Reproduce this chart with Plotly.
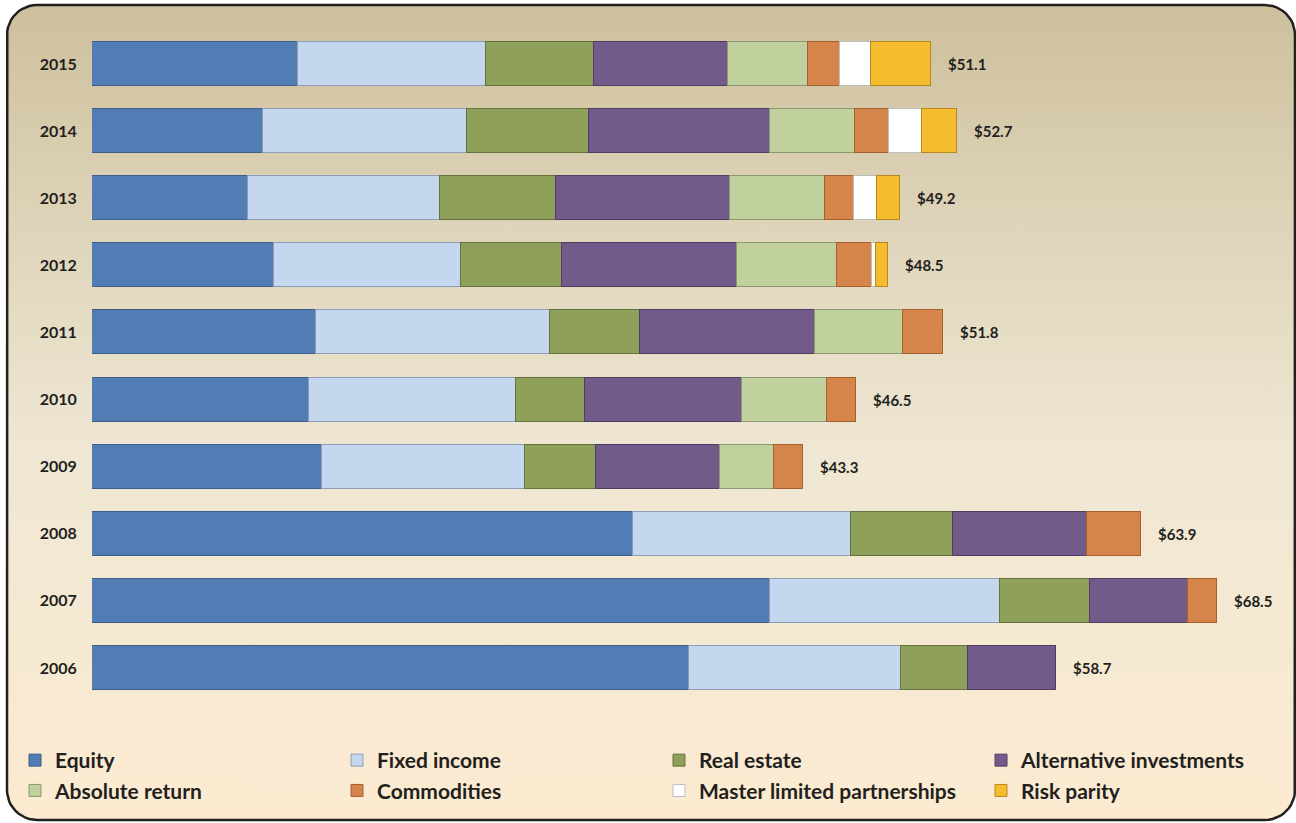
import math
import plotly.graph_objects as go

# Endowment asset allocation by year, $ billions
years = ["2006", "2007", "2008", "2009", "2010", "2011", "2012", "2013", "2014", "2015"]
equity = [36.36, 41.29, 32.95, 14.03, 13.21, 13.64, 11.08, 9.52, 10.42, 12.53]
fixed_income = [12.91, 14.01, 13.28, 12.36, 12.61, 14.25, 11.39, 11.66, 12.43, 11.48]
real_estate = [4.08, 5.48, 6.21, 4.32, 4.20, 5.48, 6.15, 7.06, 7.43, 6.58]
alternative = [5.35, 5.99, 8.17, 7.51, 9.54, 10.67, 10.66, 10.64, 11.00, 8.16]
absolute_return = [None, None, None, 3.29, 5.21, 5.34, 6.09, 5.74, 5.19, 4.83]
commodities = [None, 1.73, 3.29, 1.79, 1.73, 2.42, 2.13, 1.77, 2.07, 1.99]
mlp = [None, None, None, None, None, None, 0.24, 1.43, 2.03, 1.85]
risk_parity = [None, None, None, None, None, None, 0.76, 1.38, 2.13, 3.68]
totals = [58.7, 68.5, 63.9, 43.3, 46.5, 51.8, 48.5, 49.2, 52.7, 51.1]

series = [
    ("Equity", equity, "#517db4", "#3b5f8a"),
    ("Fixed income", fixed_income, "#c5d7ef", "#8c9db5"),
    ("Real estate", real_estate, "#8fa05a", "#65723e"),
    ("Alternative investments", alternative, "#725a8b", "#4f3d63"),
    ("Absolute return", absolute_return, "#c1d19d", "#8b9870"),
    ("Commodities", commodities, "#d5844a", "#a4612f"),
    ("Master limited partnerships", mlp, "#ffffff", "#bdbdbd"),
    ("Risk parity", risk_parity, "#f5bc2f", "#b5891d"),
]

FONT = "Lato, Open Sans, sans-serif"
TEXT = "#231f20"
W, H = 1296, 823

fig = go.Figure()

# Rounded panel with vertical tan-to-cream gradient (pixel coordinates)
x0, x1, y0, y1, r = 7, 1295, 5, 820, 30
px, py = [], []
corners = [(x1 - r, y0 + r, -90, 0), (x1 - r, y1 - r, 0, 90),
           (x0 + r, y1 - r, 90, 180), (x0 + r, y0 + r, 180, 270)]
for cx, cy, a0, a1 in corners:
    for k in range(13):
        a = math.radians(a0 + (a1 - a0) * k / 12)
        px.append(cx + r * math.cos(a))
        py.append(cy + r * math.sin(a))
px.append(px[0])
py.append(py[0])
fig.add_trace(go.Scatter(
    x=px, y=py, mode="lines", fill="toself",
    line=dict(color="#231f20", width=2.5),
    fillgradient=dict(type="vertical", start=0, stop=H,
                      colorscale=[[0, "#ccbf9c"], [0.3, "#e0d6bc"],
                                  [0.55, "#efe7d3"], [1, "#fcebd1"]]),
    hoverinfo="skip", showlegend=False, xaxis="x", yaxis="y",
))

for name, vals, color, edge in series:
    fig.add_trace(go.Bar(
        y=years, x=vals, name=name, orientation="h",
        marker=dict(color=color, line=dict(color=edge, width=1)),
        width=0.656, xaxis="x2", yaxis="y2",
    ))

# Total labels at the end of each bar (category index on the y axis)
for i, tot in enumerate(totals):
    fig.add_annotation(
        x=tot, y=i, xref="x2", yref="y2", text=f"${tot:.1f}",
        showarrow=False, xanchor="left", xshift=15,
        font=dict(family=FONT, size=15, color=TEXT, weight="bold"),
    )

scale = 16.42  # pixels per $1B
left = 92
pitch = 67.11
fig.update_layout(
    width=W, height=H,
    margin=dict(l=0, r=0, t=0, b=0, autoexpand=False),
    paper_bgcolor="white", plot_bgcolor="rgba(0,0,0,0)",
    barmode="stack", bargap=0,
    xaxis=dict(domain=[0, 1], range=[0, W], visible=False, fixedrange=True),
    yaxis=dict(domain=[0, 1], range=[H, 0], visible=False, fixedrange=True),
    xaxis2=dict(domain=[left / W, 1], range=[0, (W - left) / scale],
                anchor="y2", visible=False),
    yaxis2=dict(domain=[0, 1], anchor="x2", type="category",
                categoryorder="array", categoryarray=years,
                range=[-(H - 668) / pitch, 668 / pitch],
                showgrid=False, zeroline=False, showline=False,
                ticks="outside", ticklen=11, tickcolor="rgba(0,0,0,0)",
                tickfont=dict(family=FONT, size=16, color=TEXT, weight="bold")),
    legend=dict(orientation="h", x=15 / W, xanchor="left",
                y=1 - 740 / H, yanchor="top",
                entrywidth=277, entrywidthmode="pixels",
                font=dict(family=FONT, size=21, color=TEXT, weight="bold"),
                bgcolor="rgba(0,0,0,0)", traceorder="normal"),
    showlegend=True,
)

fig.write_html("out.html")
